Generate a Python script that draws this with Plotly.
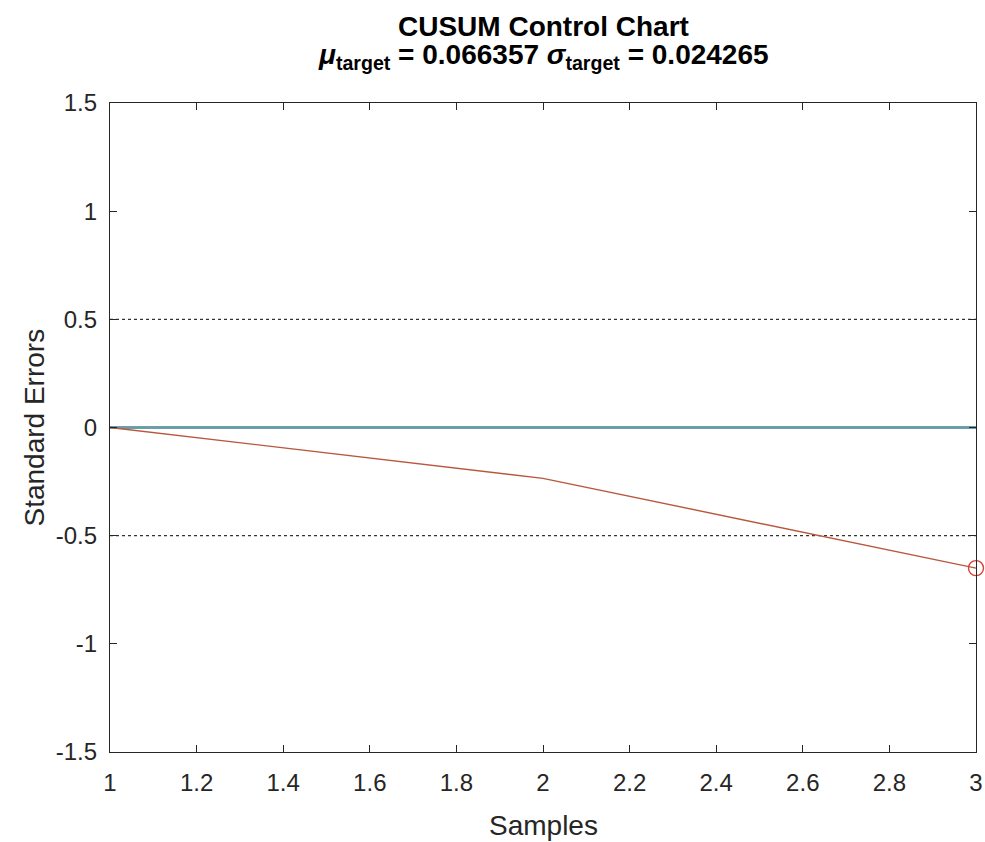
import plotly.graph_objects as go

samples = [1, 2, 3]
upper_cusum = [0.0, 0.0, 0.0]
lower_cusum = [0.0, -0.235, -0.65]
limit_hi = 0.5
limit_lo = -0.5
violation_x = [3]
violation_y = [-0.65]
x_ticks = [1, 1.2, 1.4, 1.6, 1.8, 2, 2.2, 2.4, 2.6, 2.8, 3]
x_tick_labels = ["1", "1.2", "1.4", "1.6", "1.8", "2", "2.2", "2.4", "2.6", "2.8", "3"]
y_ticks = [-1.5, -1, -0.5, 0, 0.5, 1, 1.5]
y_tick_labels = ["-1.5", "-1", "-0.5", "0", "0.5", "1", "1.5"]

FONT = "Liberation Sans, Arial, sans-serif"
AX = "#262626"

fig = go.Figure()
fig.add_trace(go.Scatter(x=[samples[0], samples[-1]], y=[limit_hi, limit_hi], mode="lines",
                         line=dict(color="#333333", width=1.3, dash="dot"), showlegend=False))
fig.add_trace(go.Scatter(x=[samples[0], samples[-1]], y=[limit_lo, limit_lo], mode="lines",
                         line=dict(color="#333333", width=1.3, dash="dot"), showlegend=False))
fig.add_trace(go.Scatter(x=samples, y=upper_cusum, mode="lines",
                         line=dict(color="#6a9faa", width=2.8), showlegend=False))
fig.add_trace(go.Scatter(x=samples, y=lower_cusum, mode="lines",
                         line=dict(color="#b8573c", width=1.4), showlegend=False))
fig.add_trace(go.Scatter(x=violation_x, y=violation_y, mode="markers",
                         marker=dict(symbol="circle-open", size=15, color="#d0453a",
                                     line=dict(width=1.4, color="#d0453a")),
                         showlegend=False, cliponaxis=False))

axis_common = dict(showline=True, linecolor=AX, linewidth=1.2, mirror="ticks",
                   ticks="inside", ticklen=7, tickcolor=AX, tickwidth=1.2,
                   showgrid=False, zeroline=False, automargin=False,
                   ticklabeloverflow="allow",
                   tickfont=dict(family=FONT, size=24, color=AX))

fig.update_xaxes(range=[1, 3], tickvals=x_ticks, ticktext=x_tick_labels,
                 ticklabelstandoff=9, **axis_common)
fig.update_yaxes(range=[-1.5, 1.5], tickvals=y_ticks, ticktext=y_tick_labels,
                 ticklabelstandoff=7, **axis_common)

# axis titles
fig.add_annotation(x=0.5, y=0, xref="paper", yref="paper", xanchor="center", yanchor="middle",
                   yshift=-73, showarrow=False, text="Samples",
                   font=dict(family=FONT, size=28, color=AX))
fig.add_annotation(x=0, y=0.5, xref="paper", yref="paper", xanchor="center", yanchor="middle",
                   xshift=-76, showarrow=False, text="Standard Errors", textangle=-90,
                   font=dict(family=FONT, size=28, color=AX))

# title lines
fig.add_annotation(x=0.5, y=1, xref="paper", yref="paper", xanchor="center", yanchor="middle",
                   yshift=77, showarrow=False,
                   text="<b>CUSUM Control Chart</b>",
                   font=dict(family=FONT, size=28, color="#000000"))
fig.add_annotation(x=0.5, y=1, xref="paper", yref="paper", xanchor="center", yanchor="middle",
                   yshift=47, showarrow=False,
                   text="<b><i>μ</i><sub>target</sub> = 0.066357 <i>σ</i><sub>target</sub> = 0.024265</b>",
                   font=dict(family=FONT, size=28, color="#000000"))

fig.update_layout(width=985, height=842, paper_bgcolor="white", plot_bgcolor="white",
                  margin=dict(l=110, r=9, t=103, b=90), showlegend=False)

fig.write_html("out.html", config={"displayModeBar": False},
               post_script="document.body.style.margin='0';document.body.style.overflow='hidden';")
